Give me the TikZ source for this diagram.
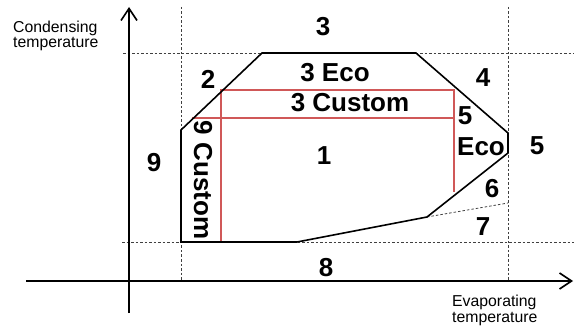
\documentclass[tikz,border=0pt]{standalone}
\usepackage{fontspec}
\setmainfont{Liberation Sans}
\usetikzlibrary{arrows.meta}
\definecolor{redline}{RGB}{208,88,88}
\begin{document}
\begin{tikzpicture}[x=1pt,y=-1pt,
  lbl/.style={font=\fontsize{26}{26}\selectfont\bfseries, inner sep=0pt},
  axlbl/.style={font=\fontsize{15.8}{15.5}\selectfont, align=left, inner sep=0pt},
  guide/.style={line width=0.8pt, dash pattern=on 2.5pt off 2pt, black!75},
  env/.style={line width=1.6pt, line join=miter},
  custom/.style={line width=1.4pt, redline},
  axis/.style={line width=1.6pt, -{Straight Barb[length=12pt,width=16pt]}}]
\useasboundingbox (0,0) rectangle (574,329);
% guide coordinates
\coordinate (gL) at (181,7);
\coordinate (gLb) at (181,281);
\coordinate (gR) at (508,7);
\coordinate (gRb) at (508,281);
\coordinate (hT1) at (123,53);
\coordinate (hT2) at (574,53);
\coordinate (hB1) at (122,242);
\coordinate (hB2) at (574,242);
% envelope
\coordinate (A) at (181,242);
\coordinate (B) at (181,130);
\coordinate (C) at (262,53);
\coordinate (D) at (416,53);
\coordinate (E) at (508,133);
\coordinate (F) at (508,153);
\coordinate (G) at (427,217);
\coordinate (H) at (297,242);
\coordinate (I) at (508,203);
% custom
\coordinate (R1) at (221,90);
\coordinate (R2) at (454,90);
\coordinate (R3) at (454,192);
\coordinate (R4) at (192,118);
\coordinate (R5) at (454,118);
\coordinate (R6) at (221,242);
% axes
\coordinate (yB) at (129,313);
\coordinate (yT) at (129,7);
\coordinate (xL) at (26,281);
\coordinate (xR) at (573,281);

\draw[guide] (gL) -- (gLb);
\draw[guide] (gR) -- (gRb);
\draw[guide] (hT1) -- (hT2);
\draw[guide] (hB1) -- (hB2);
\draw[guide] (G) -- (I);

\draw[custom] (R6) -- (R1) -- (R2) -- (R3);
\draw[custom] (R4) -- (R5);

\draw[env] (A) -- (B) -- (C) -- (D) -- (E) -- (F) -- (G) -- (H) -- cycle;

\draw[axis] (yB) -- (yT);
\draw[axis] (xL) -- (xR);

\node[lbl] (n3) at (323,27) {3};
\node[lbl] (n2) at (208,79) {2};
\node[lbl] (n3eco) at (335,73) {3 Eco};
\node[lbl] (n3cus) at (350,103) {3 Custom};
\node[lbl] (n4) at (483,78) {4};
\node[lbl] (n5a) at (465,116) {5};
\node[lbl] (neco) at (481,147) {Eco};
\node[lbl] (n5b) at (537,146) {5};
\node[lbl] (n1) at (324,156) {1};
\node[lbl] (n9) at (154,163) {9};
\node[lbl, rotate=-90] (n9cus) at (203,180) {9 Custom};
\node[lbl] (n6) at (492,189) {6};
\node[lbl] (n7) at (483,227) {7};
\node[lbl] (n8) at (326,268) {8};

\node[axlbl, anchor=north west] (cond) at (13,20.5) {Condensing\\temperature};
\node[axlbl, anchor=north west] (evap) at (452,295) {Evaporating\\temperature};
\end{tikzpicture}
\end{document}
